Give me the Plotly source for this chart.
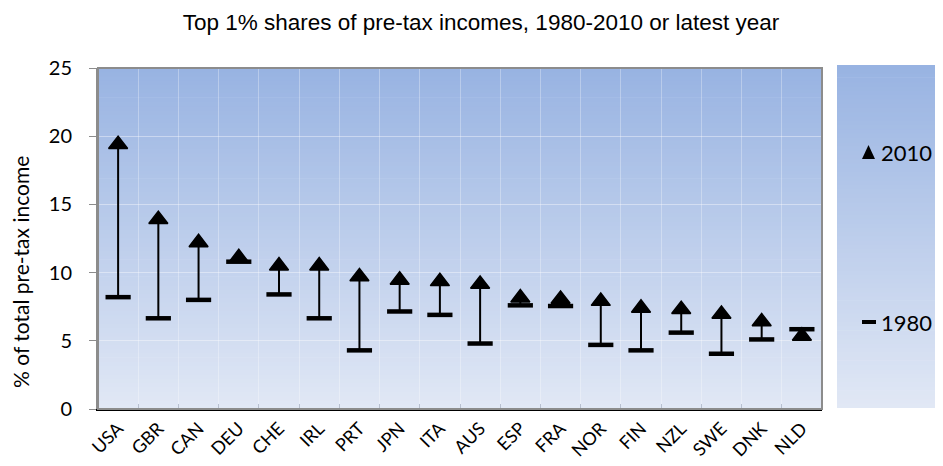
import plotly.graph_objects as go

countries = ["USA", "GBR", "CAN", "DEU", "CHE", "IRL", "PRT", "JPN", "ITA",
             "AUS", "ESP", "FRA", "NOR", "FIN", "NZL", "SWE", "DNK", "NLD"]
y2010 = [19.4, 13.9, 12.2, 11.1, 10.5, 10.5, 9.7, 9.45, 9.35,
         9.15, 8.15, 8.05, 7.9, 7.4, 7.3, 6.95, 6.4, 5.35]
y1980 = [8.2, 6.65, 8.0, 10.8, 8.4, 6.65, 4.3, 7.15, 6.9,
         4.8, 7.6, 7.55, 4.7, 4.3, 5.6, 4.05, 5.1, 5.85]

title_text = "Top 1% shares of pre-tax incomes, 1980-2010 or latest year"
ytitle = "% of total pre-tax income"
legend_labels = ["2010", "1980"]

OFF = 8  # page body margin
W, H = 943 - OFF, 466 - OFF
# page-pixel positions of the plot area
PL, PR, PT, PB = 98, 822, 68, 409
L, R, T, B = PL - OFF, PR - OFF, PT - OFF, PB - OFF
pw, ph = R - L, B - T


def px_x(x):  # page px -> paper
    return (x - OFF - L) / pw


def px_y(y):
    return (B - (y - OFF)) / ph


fig = go.Figure()

# connecting lines
lx, ly = [], []
for c, a, b in zip(countries, y1980, y2010):
    lx += [c, c, None]
    ly += [a, b, None]
fig.add_trace(go.Scatter(x=lx, y=ly, mode="lines",
                         line=dict(color="black", width=2),
                         hoverinfo="skip", showlegend=False))
fig.add_trace(go.Scatter(x=countries, y=y1980, mode="markers", name="1980",
                         marker=dict(symbol="line-ew", size=18,
                                     line=dict(color="black", width=4.5)),
                         showlegend=False))
fig.add_trace(go.Scatter(x=countries, y=y2010, mode="markers", name="2010",
                         marker=dict(symbol="triangle-up", size=16.5, color="black",
                                     line=dict(width=1.5, color="black")),
                         showlegend=False))


def lerp(c1, c2, t):
    return "rgb(%d,%d,%d)" % tuple(round(a + (b - a) * t) for a, b in zip(c1, c2))


top_c = (0x98, 0xb3, 0xe2)
bot_c = (0xe1, 0xe8, 0xf5)
shapes = []
N = 80
panels = [(px_x(PL), px_x(PR), px_y(PB), px_y(PT)),
          (px_x(837), px_x(950), px_y(408), px_y(65))]
for x0, x1, y0, y1 in panels:
    for i in range(N):
        ya = y0 + (y1 - y0) * i / N
        yb = y0 + (y1 - y0) * (i + 1) / N + 0.002
        shapes.append(dict(type="rect", xref="paper", yref="paper",
                           x0=x0, x1=x1, y0=ya, y1=min(yb, y1),
                           fillcolor=lerp(bot_c, top_c, (i + 0.5) / N),
                           line=dict(width=0), layer="below"))
# plot border (gray top/right)
shapes.append(dict(type="rect", xref="paper", yref="paper", x0=0, x1=1, y0=0, y1=1,
                   line=dict(color="#8c8c8c", width=2), layer="above"))
# legend glyphs
tx0, tx1, ty_b, ty_t = px_x(862), px_x(875), px_y(159), px_y(145)
shapes.append(dict(type="path", xref="paper", yref="paper",
                   path="M %f,%f L %f,%f L %f,%f Z" % (tx0, ty_b, tx1, ty_b, (tx0 + tx1) / 2, ty_t),
                   fillcolor="black", line=dict(width=0), layer="above"))
shapes.append(dict(type="rect", xref="paper", yref="paper",
                   x0=px_x(862), x1=px_x(876), y0=px_y(324), y1=px_y(320),
                   fillcolor="black", line=dict(width=0), layer="above"))

font_main = "Lato, Open Sans"

fig.update_layout(
    width=W, height=H,
    margin=dict(l=L, r=W - R, t=T, b=H - B, pad=0, autoexpand=False),
    paper_bgcolor="white",
    plot_bgcolor="rgba(0,0,0,0)",
    shapes=shapes,
    title=dict(text=title_text, x=(481 - OFF) / W, xanchor="center",
               y=1 - (22 - OFF) / H, yanchor="middle",
               font=dict(family="Liberation Sans, Arial", size=22.5, color="black")),
    xaxis=dict(type="category", range=[-0.5, len(countries) - 0.5], automargin=False,
               tickangle=-45, tickson="boundaries", ticks="inside", ticklen=5,
               tickcolor="#b8c0d0", showgrid=True, gridcolor="rgba(255,255,255,0.3)",
               showline=True, linecolor="black", linewidth=2,
               ticklabelstandoff=0,
               tickfont=dict(family=font_main, size=18, color="black")),
    yaxis=dict(range=[0, 25], dtick=5, ticks="outside", ticklen=7, tickcolor="#8c8c8c",
               automargin=False,
               showgrid=True, gridcolor="rgba(255,255,255,0.4)", zeroline=False,
               showline=True, linecolor="#8c8c8c", linewidth=2,
               ticklabelstandoff=13,
               tickfont=dict(family=font_main, size=20, color="black")),
    annotations=[
        dict(xref="paper", yref="paper", x=px_x(20), y=px_y(272), xanchor="center",
             yanchor="middle", showarrow=False, text=ytitle, textangle=-90,
             font=dict(family=font_main, size=21, color="black")),
        dict(xref="paper", yref="paper", x=px_x(879), y=px_y(152), xanchor="left",
             yanchor="middle", showarrow=False, text=legend_labels[0],
             font=dict(family=font_main, size=22, color="black")),
        dict(xref="paper", yref="paper", x=px_x(879), y=px_y(322), xanchor="left",
             yanchor="middle", showarrow=False, text=legend_labels[1],
             font=dict(family=font_main, size=22, color="black")),
    ],
)

fig.write_html("out.html")
